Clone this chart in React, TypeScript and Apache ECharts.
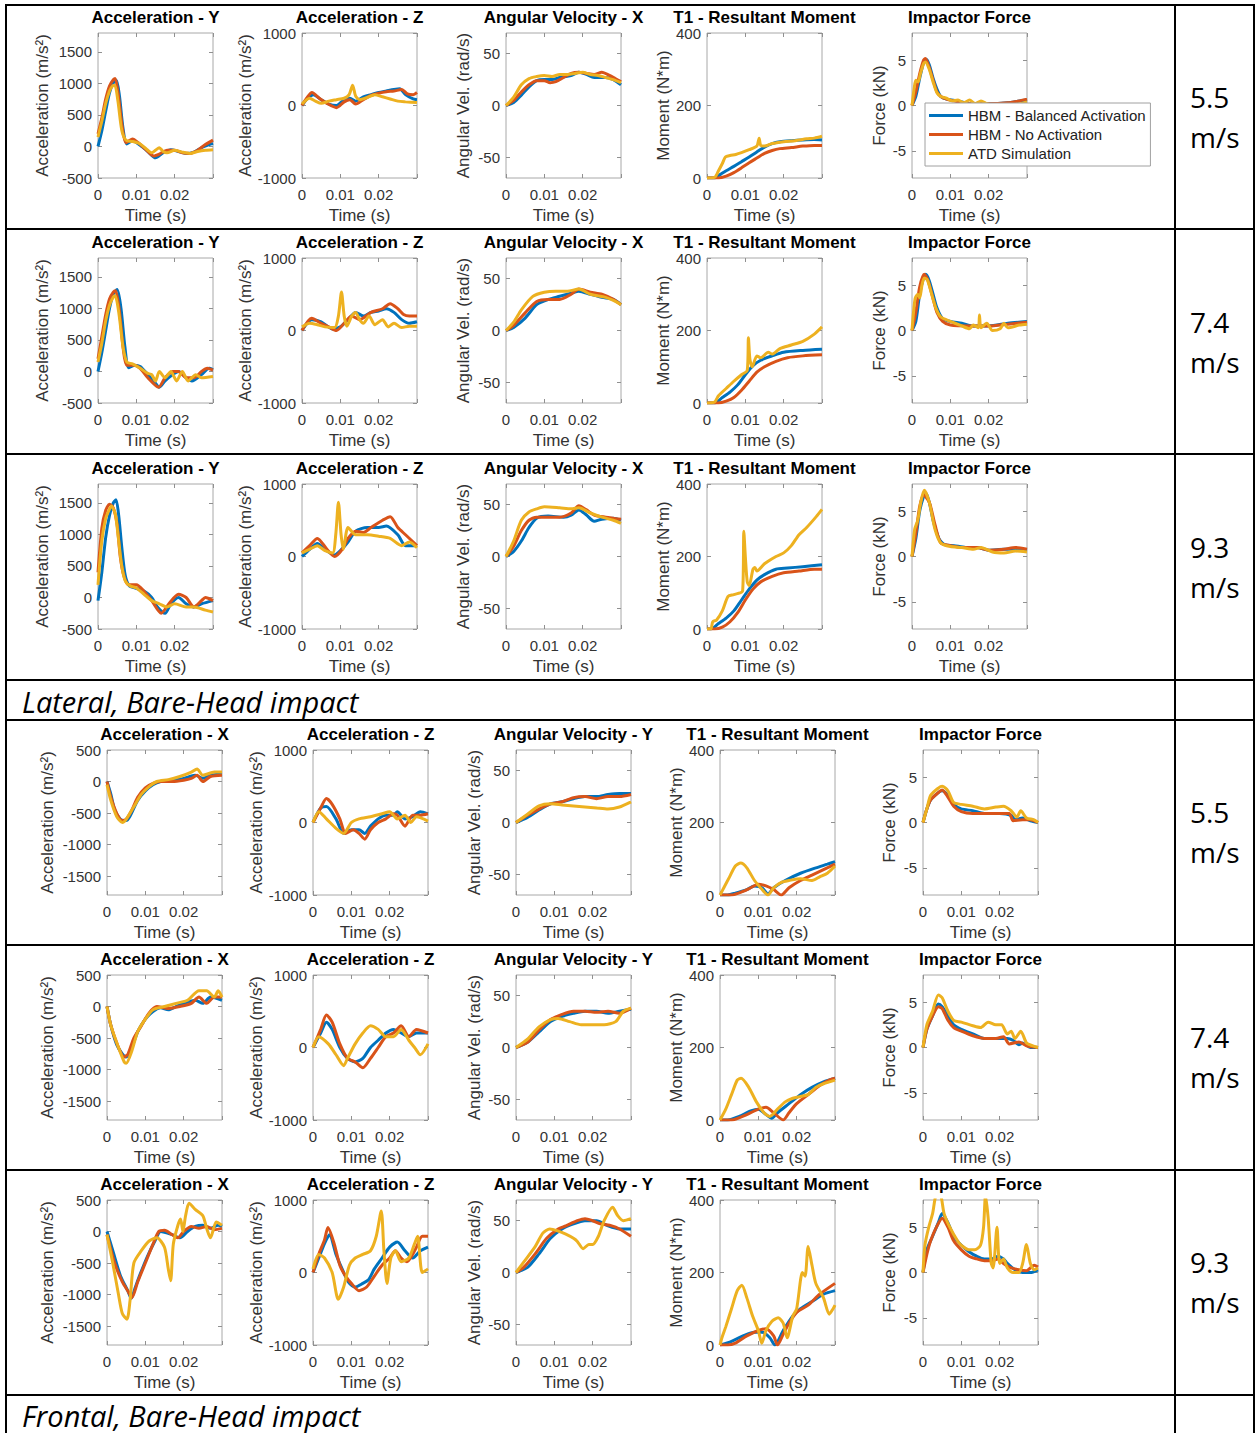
import React, { useEffect, useRef } from 'react';
import * as echarts from 'echarts';

type Pt = [number, number];

const BLUE = '#0072BD';
const RED = '#D95319';
const YEL = '#EDB120';
const SERIES_NAMES = ['HBM - Balanced Activation', 'HBM - No Activation', 'ATD Simulation'];

// ---- data: [time (ms), value] ----
// Lateral 5.5 m/s
const L55_AY_B: Pt[] = [[0,0],[1,250],[2,560],[3,850],[4,1010],[4.8,1050],[5.6,800],[6.5,300],[7.5,40],[9,90],[11,20],[13,-80],[15,-180],[17,-100],[19,-50],[21,-80],[23,-110],[25,-90],[27,-20],[29,30],[30,50]];
const L55_AY_R: Pt[] = [[0,200],[1,450],[2,750],[3,960],[4,1060],[4.5,1080],[5.3,820],[6.3,320],[7.3,60],[9,120],[10.5,60],[12.5,-50],[14.5,-150],[16,-120],[18,-60],[20,-60],[22,-100],[24,-110],[26,-60],[28,30],[30,100]];
const L55_AY_Y: Pt[] = [[0,150],[1,400],[2,680],[3,880],[3.8,960],[4.4,970],[5.2,720],[6.2,260],[7.3,100],[9,80],[11,40],[13,-60],[14,-100],[15,-60],[16,-20],[17,-80],[18,-100],[20,-60],[22,-90],[24,-110],[26,-80],[28,-60],[30,-50]];
const L55_AZ_B: Pt[] = [[0,0],[1.5,100],[3,150],[5,80],[7,20],[9,0],[11,80],[12.5,100],[14,60],[16,120],[18,150],[20,180],[22,200],[24,220],[25.5,230],[27,150],[29,90],[30,80]];
const L55_AZ_R: Pt[] = [[0,0],[1.2,100],[2.6,180],[4.5,100],[6.5,30],[9,-30],[11,50],[12.5,80],[14,20],[16,80],[18,140],[20,170],[22,190],[24,200],[26,220],[27.5,160],[29,150],[30,180]];
const L55_AZ_Y: Pt[] = [[0,20],[2,100],[3.5,60],[5,30],[7,60],[9,80],[11,100],[12.3,150],[13.2,280],[14,130],[15,80],[17,110],[19,150],[21,120],[23,90],[25,60],[27,50],[30,40]];
const L55_AV_B: Pt[] = [[0,0],[2,3],[4,10],[6,18],[8,24],[10,25],[12,25],[14,27],[17,29],[19,32],[21,30],[23,27],[26,27],[28,25],[30,20]];
const L55_AV_R: Pt[] = [[0,0],[2,5],[4,13],[6,20],[8,24],[10,24],[11.5,22],[13,23],[15,27],[17,31],[19,32],[21,31],[23,30],[25,32],[27,29],[28.5,26],[30,23]];
const L55_AV_Y: Pt[] = [[0,0],[2,8],[4,20],[6,26],[8,28],[10,29],[12,28],[14,30],[16,30],[18,31],[20,32],[22,30],[24,29],[26,27],[28,25],[30,22]];
const L55_MO_B: Pt[] = [[0,0],[2,0],[3.5,10],[5,20],[7,32],[9,45],[11,58],[13,72],[15,85],[17,95],[19,100],[22,103],[25,105],[28,106],[30,105]];
const L55_MO_R: Pt[] = [[0,0],[3,0],[5,5],[7,15],[9,28],[11,42],[13,55],[15,68],[17,76],[19,81],[22,84],[25,88],[28,90],[30,90]];
const L55_MO_Y: Pt[] = [[0,0],[2,2],[3,20],[4,40],[4.8,58],[6,62],[7.5,65],[9,70],[11,78],[13,88],[13.6,110],[14,90],[15,88],[17,95],[20,100],[23,103],[26,108],[28,110],[30,115]];
const L55_FO_B: Pt[] = [[0,0],[1,1],[2,3],[3,4.7],[3.7,5.1],[4.5,4.5],[5.5,3],[6.5,1.8],[7.5,1],[9,0.7],[12,0.5],[15,0.2],[20,0.2],[25,0.3],[28,0.5],[30,0.6]];
const L55_FO_R: Pt[] = [[0,0],[1,1.5],[2,3.5],[3,5],[3.5,5.2],[4.5,4.2],[5.5,2.8],[6.5,1.5],[7.5,1],[9,0.7],[12,0.4],[15,0.2],[20,0.2],[25,0.3],[28,0.5],[30,0.7]];
const L55_FO_Y: Pt[] = [[0,0],[0.6,2],[1,2.8],[1.6,2.6],[2.2,3.5],[3,4.6],[3.5,4.8],[4.5,4],[5.5,2.6],[6.5,1.4],[7.5,1],[9,0.8],[10.5,0.5],[12,0.6],[13.5,0.3],[15,0.6],[16.5,0.2],[18,0.5],[19.5,0.2],[21,0],[24,0],[27,0.1],[30,0.4]];

// Lateral 7.4 m/s
const L74_AY_B: Pt[] = [[0,0],[1,300],[2,650],[3,1000],[4,1230],[5,1300],[6,1000],[7,400],[8,60],[9.5,100],[11,80],[13,-50],[14.5,-150],[16,-250],[17.5,-150],[19.5,-50],[21,0],[23,-100],[24.5,-150],[27,-50],[29,50],[30,30]];
const L74_AY_R: Pt[] = [[0,200],[1,550],[2,900],[3,1150],[4,1260],[4.6,1280],[5.6,950],[6.6,350],[7.5,100],[9.5,100],[11,50],[13,-100],[15.8,-250],[17.5,-100],[19.5,0],[21,0],[23,-100],[25,-100],[27,0],[28.5,50],[30,20]];
const L74_AY_Y: Pt[] = [[0,150],[1,450],[2,800],[3,1050],[4,1180],[4.5,1200],[5.5,900],[6.5,400],[7.5,150],[9,120],[11,50],[13,-30],[14,-50],[15,-150],[16,0],[17.5,-100],[19,0],[20.5,-150],[22,0],[23.5,-150],[25.5,-50],[27,-100],[30,-80]];
const L74_AZ_B: Pt[] = [[0,0],[2.5,150],[5,120],[8,20],[10,50],[12,150],[14,250],[16,200],[18,250],[20,270],[22,300],[24,250],[26,150],[28,100],[30,120]];
const L74_AZ_R: Pt[] = [[0,0],[2.5,170],[5,100],[7,50],[9,0],[11,100],[13,200],[15,150],[18,250],[21,300],[23,370],[25,300],[26.5,220],[28,200],[30,200]];
const L74_AZ_Y: Pt[] = [[0,50],[2,100],[4,80],[6,50],[8.5,40],[9.5,200],[10.3,530],[11,200],[11.7,60],[13,200],[14,250],[15,150],[16,100],[17.5,200],[19,80],[21,150],[22.5,50],[24,100],[26,40],[28,60],[30,60]];
const L74_AV_B: Pt[] = [[0,0],[2,3],[5,12],[8,25],[11,30],[14,33],[17,36],[19,38],[22,35],[25,32],[28,30],[30,25]];
const L74_AV_R: Pt[] = [[0,0],[2,5],[5,17],[8,28],[11,30],[14,30],[17,35],[19,40],[22,37],[25,35],[28,30],[30,25]];
const L74_AV_Y: Pt[] = [[0,0],[2,8],[4,20],[7,33],[10,37],[13,38],[16,38],[19,40],[22,35],[26,32],[28,29],[30,25]];
const L74_MO_B: Pt[] = [[0,0],[2,0],[4,15],[6,30],[8,50],[10,78],[12,103],[14,118],[17,130],[20,140],[25,145],[30,148]];
const L74_MO_R: Pt[] = [[0,0],[3,0],[5,5],[7,15],[9,35],[11,60],[13,85],[15,100],[18,115],[21,125],[25,130],[30,133]];
const L74_MO_Y: Pt[] = [[0,0],[2,3],[3,20],[5,40],[7,60],[9,78],[10.5,90],[10.8,180],[11.2,120],[11.8,100],[13,130],[14,125],[16,140],[17,135],[19,150],[22,160],[25,170],[28,190],[30,210]];
const L74_FO_B: Pt[] = [[0,0],[1,1],[2,4],[3,5.8],[3.6,6.2],[4.5,5.5],[5.5,4],[6.5,2.5],[8,1.3],[10,1],[13,0.8],[16,0.5],[20,0.5],[25,0.8],[30,1]];
const L74_FO_R: Pt[] = [[0,0],[1,2],[2,4.8],[3.2,6.2],[4.2,5.5],[5.5,3.5],[6.5,2],[8,1],[10,0.6],[15,0.5],[20,0.5],[25,0.7],[30,0.9]];
const L74_FO_Y: Pt[] = [[0,0],[0.8,3.5],[1.5,4],[2,3.6],[2.6,5],[3.2,5.8],[4,5.6],[5,4.2],[6.2,2.5],[7.5,1.5],[10,1],[13,0.5],[15,0.2],[16,0.6],[17.3,0.3],[17.6,1.7],[18,0.3],[19.5,0.8],[21,0],[23,0.2],[24,0.8],[25,0.3],[28,0.6],[30,0.7]];

// Lateral 9.3 m/s
const L93_AY_B: Pt[] = [[0,-50],[1,400],[2,950],[3,1300],[4,1500],[4.7,1550],[5.4,1300],[6.2,800],[7.1,350],[8.2,180],[9.7,150],[12,100],[14,0],[15.5,-150],[17.5,-250],[19,-100],[21,0],[23,-100],[25,-150],[27,-100],[30,-50]];
const L93_AY_R: Pt[] = [[0,400],[1,1100],[2,1380],[3,1480],[4,1420],[5,1150],[5.8,650],[6.8,330],[8,200],[10,200],[12,100],[14,-50],[16.5,-250],[18.5,-100],[21,50],[23,0],[25,-150],[27,-50],[28,0],[30,-50]];
const L93_AY_Y: Pt[] = [[0,200],[1,900],[2,1250],[3,1400],[3.5,1450],[4.5,1330],[5.3,950],[6.2,500],[7.2,250],[8.5,180],[10,150],[12,50],[14,-50],[16,-100],[18,-150],[20,-100],[23,-150],[25,-150],[28,-200],[30,-230]];
const L93_AZ_B: Pt[] = [[0,0],[2,100],[4,180],[6,100],[8.5,20],[10,80],[12,200],[14,350],[17,400],[20,400],[22,420],[25,300],[27,150],[30,150]];
const L93_AZ_R: Pt[] = [[0,50],[2,150],[4,250],[6.5,100],[8.5,0],[10.5,100],[12,250],[14,350],[16,330],[18,400],[21,500],[23,550],[25,400],[27,300],[30,150]];
const L93_AZ_Y: Pt[] = [[0,50],[2,100],[4,150],[6,80],[8,50],[8.8,300],[9.5,750],[10.2,300],[10.8,100],[12,400],[14,300],[17,300],[20,280],[23,250],[26,150],[28,200],[30,120]];
const L93_AV_B: Pt[] = [[0,0],[2,5],[4,15],[6,28],[8,37],[11,39],[15,38],[17,40],[19,45],[21,40],[23,34],[25,36],[28,37],[30,35]];
const L93_AV_R: Pt[] = [[0,0],[2,10],[4,25],[6,35],[8,38],[11,38],[14,38],[17,42],[19,49],[21,45],[23,40],[26,38],[30,36]];
const L93_AV_Y: Pt[] = [[0,0],[2,15],[4,35],[6,43],[8,46],[10,48],[14,47],[17,46],[19,47],[22,42],[25,38],[28,35],[30,32]];
const L93_MO_B: Pt[] = [[0,0],[1,0],[3,15],[5,30],[7,50],[9,80],[11,110],[13,135],[15,150],[18,165],[21,168],[25,172],[30,177]];
const L93_MO_R: Pt[] = [[0,0],[2,0],[4,5],[6,20],[8,45],[10,80],[12,110],[14,130],[17,145],[20,155],[24,160],[28,165],[30,165]];
const L93_MO_Y: Pt[] = [[0,0],[1,0],[1.5,20],[2.5,25],[4,50],[5.5,90],[7,95],[9.3,105],[9.6,270],[10,200],[10.5,130],[11,120],[12,165],[12.5,170],[13,160],[15,180],[18,200],[20,210],[22,230],[24,260],[26,280],[28.5,310],[30,330]];
const L93_FO_B: Pt[] = [[0,0],[1,2],[2,5],[3,6.6],[3.6,7],[4.5,6],[5.5,4],[7,2],[8.5,1.3],[11,1.2],[14,1],[17,1],[20,0.7],[24,0.8],[27,0.8],[30,0.7]];
const L93_FO_R: Pt[] = [[0,0],[1,2.5],[2,5.5],[3,6.8],[4.5,6],[6,3.5],[7.5,1.5],[10,1.2],[13,1],[17,1],[20,0.7],[24,0.8],[27,1],[30,0.8]];
const L93_FO_Y: Pt[] = [[0,0],[0.7,3],[1.5,4],[2.3,6],[3.2,7.3],[4.5,6],[6,3],[7.5,1.5],[10,1.1],[13,1],[16,0.8],[18,1],[21,0.5],[24,0.4],[27,0.6],[30,0.5]];

// Frontal 5.5 m/s
const F55_AX_B: Pt[] = [[0,0],[1,-200],[2,-450],[3.5,-600],[5,-620],[6,-550],[8,-300],[10,-150],[12,-50],[14,0],[17,20],[20,50],[23,100],[25,50],[27,100],[30,120]];
const F55_AX_R: Pt[] = [[0,0],[1,-250],[2.5,-500],[4,-620],[5,-600],[6.5,-450],[8,-250],[10,-100],[12,-30],[14,0],[17,0],[20,20],[22,50],[23.5,100],[25,0],[27,80],[30,100]];
const F55_AX_Y: Pt[] = [[0,-50],[1,-300],[2.5,-550],[4,-650],[5,-600],[7,-400],[9,-200],[11,-80],[13,0],[16,30],[19,80],[22,150],[23.5,200],[25,100],[28,150],[30,150]];
const F55_AZ_B: Pt[] = [[0,0],[2,200],[3.5,220],[6,50],[8,-150],[10,-100],[12,-100],[13.5,-150],[15,-50],[17,50],[19,100],[21,100],[22,150],[24,50],[26,80],[28,150],[30,120]];
const F55_AZ_R: Pt[] = [[0,0],[2,200],[3.5,330],[5,250],[7,50],[8.5,-150],[10.5,-100],[12,-150],[13.5,-230],[15,-100],[17,0],[19,50],[21,120],[22,100],[24,-50],[26,100],[28,100],[30,120]];
const F55_AZ_Y: Pt[] = [[0,0],[1.5,150],[3.5,50],[6,-80],[8,-150],[10,0],[12,50],[15,80],[18,120],[20,150],[22,50],[24,100],[25.5,0],[27,80],[30,20]];
const F55_AV_B: Pt[] = [[0,0],[3,5],[6,12],[9,18],[12,20],[15,23],[18,25],[21,25],[24,27],[27,28],[30,28]];
const F55_AV_R: Pt[] = [[0,0],[3,7],[6,13],[9,18],[12,20],[15,24],[18,25],[21,23],[24,25],[27,25],[30,27]];
const F55_AV_Y: Pt[] = [[0,0],[3,8],[6,16],[9,18],[12,17],[15,16],[18,15],[21,14],[24,13],[27,15],[30,20]];
const F55_MO_B: Pt[] = [[0,0],[2,0],[4,5],[7,15],[9,25],[11,20],[12.5,3],[14,20],[17,40],[21,60],[25,75],[28,85],[30,92]];
const F55_MO_R: Pt[] = [[0,0],[3,0],[6,10],[8,20],[10,30],[12,25],[14,15],[16,0],[18,20],[21,40],[24,55],[27,70],[30,85]];
const F55_MO_Y: Pt[] = [[0,0],[1,20],[2.5,50],[4,80],[5.4,88],[7,75],[9,40],[11,15],[12.5,0],[14,20],[16,35],[18,40],[21,45],[24,40],[26,50],[28,60],[30,80]];
const F55_FO_B: Pt[] = [[0,0],[1,1.5],[2,2.5],[4,3.3],[5,3.5],[6.5,3],[8,2],[10,1.5],[13,1.3],[16,1],[20,1],[23,0.8],[24,0.3],[26,0.5],[28,0.2],[30,0]];
const F55_FO_R: Pt[] = [[0,0],[1,1.5],[2,2.5],[4,3.3],[5,3.6],[6.5,2.8],[8,1.8],[10,1.2],[13,1],[17,1],[20,1],[22.5,1],[23.5,0.2],[26,0.3],[28,0.3],[30,0]];
const F55_FO_Y: Pt[] = [[0,0],[1,1.5],[2,3],[4,3.8],[5,4],[6.5,3.5],[8,2.2],[10,2],[13,1.8],[16,1.5],[19,1.7],[21,1.8],[23,1.3],[24.5,0.6],[25.5,1.3],[27,0.5],[29,0.3],[30,0]];

// Frontal 7.4 m/s
const F74_AX_B: Pt[] = [[0,0],[1,-300],[2.5,-600],[4,-750],[5,-800],[6.5,-650],[8,-400],[10,-200],[12,-80],[14,-20],[16,-50],[18,0],[20,50],[23,100],[25,50],[27,150],[30,100]];
const F74_AX_R: Pt[] = [[0,0],[1,-300],[3,-650],[4.5,-800],[5.5,-750],[7,-500],[9,-300],[11,-100],[13,0],[16,-30],[19,0],[22,50],[24,150],[26,50],[28,150],[30,150]];
const F74_AX_Y: Pt[] = [[0,0],[1,-300],[3,-650],[4.5,-880],[5,-900],[6.5,-700],[8,-400],[10,-200],[12,-50],[15,0],[18,50],[21,100],[24,250],[26,250],[28,150],[29,250],[30,150]];
const F74_AZ_B: Pt[] = [[0,0],[2,200],[3.5,350],[5,250],[7,0],[9,-150],[11,-200],[13,-150],[15,0],[17,100],[19,200],[21,250],[23,200],[25,150],[27,200],[30,200]];
const F74_AZ_R: Pt[] = [[0,0],[2,250],[3.5,450],[5,350],[7,50],[9,-150],[11,-200],[13,-280],[15,-150],[17,0],[19,150],[21,200],[23,300],[25,150],[27,250],[30,200]];
const F74_AZ_Y: Pt[] = [[0,0],[1.5,150],[4,50],[6,-100],[8,-250],[9,-150],[11,50],[13,200],[15,300],[17,250],[19,150],[21,150],[23,250],[25,100],[26.5,0],[28,-100],[30,50]];
const F74_AV_B: Pt[] = [[0,0],[3,5],[6,15],[9,25],[12,30],[15,33],[18,35],[21,35],[24,33],[27,35],[30,37]];
const F74_AV_R: Pt[] = [[0,0],[3,5],[6,17],[9,27],[12,32],[15,35],[18,35],[21,34],[24,35],[27,33],[30,38]];
const F74_AV_Y: Pt[] = [[0,0],[3,8],[6,20],[9,27],[11,28],[14,25],[17,22],[20,22],[23,22],[26,25],[28,35],[30,38]];
const F74_MO_B: Pt[] = [[0,0],[2,0],[5,10],[8,25],[10,30],[12,15],[13.5,5],[15,20],[18,45],[21,70],[24,90],[27,105],[30,115]];
const F74_MO_R: Pt[] = [[0,0],[3,0],[7,15],[10,30],[12,35],[14,20],[16.5,0],[18,20],[20,45],[23,70],[26,95],[28.5,110],[30,115]];
const F74_MO_Y: Pt[] = [[0,0],[1.5,30],[3,70],[4.5,110],[5.5,115],[7.5,90],[9.5,50],[11.5,20],[13,10],[15,30],[17,50],[19,60],[21,65],[23,70],[25,90],[27,100],[30,110]];
const F74_FO_B: Pt[] = [[0,0],[1,2],[2.5,3.5],[4,4.8],[5,4.5],[6.5,3.5],[8,2.5],[10,2],[13,1.5],[16,1],[19,1],[22,1],[23.5,0.8],[25,0.3],[26,0.5],[28,0],[30,0]];
const F74_FO_R: Pt[] = [[0,0],[1,2],[2.5,3.5],[4,4.5],[5,4.3],[6.5,3],[8,2.2],[10,1.8],[13,1.3],[16,1],[19,1],[21,1.2],[22.5,0.4],[25,0.6],[27,0.2],[30,0]];
const F74_FO_Y: Pt[] = [[0,0],[1,2.5],[2.5,4],[4,5.8],[5,5.5],[6.5,4],[8,3],[10,2.8],[13,2.4],[15,2.2],[17,2.8],[19,2.5],[20.5,2.5],[22,1.5],[23,1.8],[24,1],[25.5,1.8],[27,0.5],[28.5,0.2],[30,0]];

// Frontal 9.3 m/s
const F93_AX_B: Pt[] = [[0,0],[1.5,-300],[3.5,-700],[5.5,-950],[6.3,-1060],[7.3,-900],[8.5,-700],[10.5,-400],[12.5,-150],[14,0],[17,-50],[19,-100],[21,0],[23,80],[25,100],[27,50],[29,100],[30,80]];
const F93_AX_R: Pt[] = [[0,-50],[2,-500],[4,-800],[5.5,-950],[6.5,-1050],[8,-800],[10,-500],[12,-200],[13.5,0],[15,20],[17,-50],[18.5,-100],[20,0],[22,80],[24,50],[26,80],[28,30],[30,50]];
const F93_AX_Y: Pt[] = [[0,-50],[1.5,-500],[3,-1000],[4,-1300],[5.2,-1390],[6,-1100],[7,-500],[9,-300],[11,-150],[13,-100],[15,-250],[16,-600],[16.6,-780],[17.3,-200],[18.5,100],[19.2,200],[19.8,0],[20.5,250],[21.4,450],[23,350],[25,250],[26,50],[27,-100],[28.5,150],[30,100]];
const F93_AZ_B: Pt[] = [[0,0],[1.5,200],[3,400],[4.3,520],[6,250],[8,0],[9.5,-150],[11,-200],[13,-150],[14.5,-100],[16,50],[18,200],[20,350],[22,420],[24,300],[26,200],[28,300],[30,350]];
const F93_AZ_R: Pt[] = [[0,0],[1.5,250],[3,450],[3.9,620],[5.5,400],[7,100],[8.5,-50],[10,-150],[12,-250],[14,-200],[16,-50],[18,100],[20,200],[21.5,300],[23,200],[24.5,150],[26,250],[27,350],[28.5,500],[30,500]];
const F93_AZ_Y: Pt[] = [[0,50],[1.5,250],[3,200],[5,0],[6.6,-370],[8,-200],[9.5,100],[11,200],[13,250],[15,300],[16.5,500],[17.8,850],[18.5,300],[19.3,-150],[20.3,200],[21.5,300],[23,150],[25,200],[26.5,400],[27.3,500],[28.5,0],[30,50]];
const F93_AV_B: Pt[] = [[0,0],[3,5],[6,18],[9,33],[12,42],[15,47],[18,50],[21,50],[24,45],[27,42],[30,42]];
const F93_AV_R: Pt[] = [[0,0],[2,5],[5,18],[8,33],[11,42],[13,45],[16,50],[18,52],[20,50],[22,47],[25,45],[27,42],[30,35]];
const F93_AV_Y: Pt[] = [[0,0],[2,10],[5,25],[7,38],[8.8,42],[11,40],[13,37],[15,33],[16,30],[17.5,23],[19,27],[20,27],[21.5,35],[23,50],[25.2,63],[26.5,55],[28,50],[30,52]];
const F93_MO_B: Pt[] = [[0,0],[3,10],[6,25],[9,35],[11,35],[13,20],[14.3,0],[16.5,40],[19,80],[21,100],[24,120],[27,140],[30,150]];
const F93_MO_R: Pt[] = [[0,0],[2,0],[4,5],[7,25],[10,40],[12,45],[14,25],[15,0],[16.5,30],[18,60],[20,90],[23,110],[26,140],[30,170]];
const F93_MO_Y: Pt[] = [[0,0],[0.5,20],[1.5,50],[3,100],[4.5,150],[5.7,165],[7,130],[8.5,80],[10,40],[10.9,5],[12,40],[13.5,65],[15.2,75],[16.5,60],[17.5,20],[19,80],[20,100],[21.5,200],[22.2,190],[23,272],[24,220],[25,170],[27,130],[28.5,85],[29.5,100],[30,110]];
const F93_FO_B: Pt[] = [[0,0],[1,2.5],[2.5,4],[4,5.5],[5,6.5],[6.5,5.5],[8,4],[10,3],[12,2.3],[14,1.8],[16,1.5],[18,1.5],[19.5,1.8],[21,1.5],[22,1],[24,0.3],[26,0],[28,0],[30,0.3]];
const F93_FO_R: Pt[] = [[0,0],[1,2],[2,3.5],[3.5,5],[5,6],[6.5,5],[8,3.5],[10,2.5],[12,1.8],[14,1.5],[16,1.3],[18,1.3],[19.5,1.5],[21,1],[23,0.5],[25,0.3],[27,0.2],[29,0.8],[30,0.6]];
const F93_FO_Y: Pt[] = [[0,0],[0.5,3],[1.5,5],[2.5,6.5],[3.5,8.5],[4.5,8.5],[5.5,6.5],[7,5],[9,3.5],[10,3],[12,2.5],[13.5,2.5],[15,3],[15.8,5],[16.3,8.5],[17,6],[17.8,1],[18.3,0.5],[19.3,5],[20,1],[21,1.5],[22,0.5],[23.5,0],[25,0],[26,1],[27,3.1],[28,1],[29,0.3],[30,0.5]];

// ---- ticks ----
const X_TICK_LABELS = [0, 0.01, 0.02];
const X_TICK_MARKS = [0, 0.01, 0.02, 0.03];
const ACC_Y_TICKS = [-500, 0, 500, 1000, 1500];
const ACC_X_TICKS = [-1500, -1000, -500, 0, 500];
const ACC_Z_TICKS = [-1000, 0, 1000];
const ANG_TICKS = [-50, 0, 50];
const MOM_TICKS = [0, 200, 400];
const FORCE_TICKS = [-5, 0, 5];

const LAT_PANELS = [
  { title: 'Acceleration - Y', name: 'Acceleration (m/s²)', min: -500, max: 1800, ticks: ACC_Y_TICKS },
  { title: 'Acceleration - Z', name: 'Acceleration (m/s²)', min: -1000, max: 1000, ticks: ACC_Z_TICKS },
  { title: 'Angular Velocity - X', name: 'Angular Vel. (rad/s)', min: -70, max: 70, ticks: ANG_TICKS },
  { title: 'T1 - Resultant Moment', name: 'Moment (N*m)', min: 0, max: 400, ticks: MOM_TICKS },
  { title: 'Impactor Force', name: 'Force (kN)', min: -8, max: 8, ticks: FORCE_TICKS },
];
const FRO_PANELS = [
  { title: 'Acceleration - X', name: 'Acceleration (m/s²)', min: -1800, max: 500, ticks: ACC_X_TICKS },
  { title: 'Acceleration - Z', name: 'Acceleration (m/s²)', min: -1000, max: 1000, ticks: ACC_Z_TICKS },
  { title: 'Angular Velocity - Y', name: 'Angular Vel. (rad/s)', min: -70, max: 70, ticks: ANG_TICKS },
  { title: 'T1 - Resultant Moment', name: 'Moment (N*m)', min: 0, max: 400, ticks: MOM_TICKS },
  { title: 'Impactor Force', name: 'Force (kN)', min: -8, max: 8, ticks: FORCE_TICKS },
];

const ROWS = [
  { frontal: false, speed: '5.5', curves: [[L55_AY_B, L55_AY_R, L55_AY_Y], [L55_AZ_B, L55_AZ_R, L55_AZ_Y], [L55_AV_B, L55_AV_R, L55_AV_Y], [L55_MO_B, L55_MO_R, L55_MO_Y], [L55_FO_B, L55_FO_R, L55_FO_Y]] },
  { frontal: false, speed: '7.4', curves: [[L74_AY_B, L74_AY_R, L74_AY_Y], [L74_AZ_B, L74_AZ_R, L74_AZ_Y], [L74_AV_B, L74_AV_R, L74_AV_Y], [L74_MO_B, L74_MO_R, L74_MO_Y], [L74_FO_B, L74_FO_R, L74_FO_Y]] },
  { frontal: false, speed: '9.3', curves: [[L93_AY_B, L93_AY_R, L93_AY_Y], [L93_AZ_B, L93_AZ_R, L93_AZ_Y], [L93_AV_B, L93_AV_R, L93_AV_Y], [L93_MO_B, L93_MO_R, L93_MO_Y], [L93_FO_B, L93_FO_R, L93_FO_Y]] },
  { frontal: true, speed: '5.5', curves: [[F55_AX_B, F55_AX_R, F55_AX_Y], [F55_AZ_B, F55_AZ_R, F55_AZ_Y], [F55_AV_B, F55_AV_R, F55_AV_Y], [F55_MO_B, F55_MO_R, F55_MO_Y], [F55_FO_B, F55_FO_R, F55_FO_Y]] },
  { frontal: true, speed: '7.4', curves: [[F74_AX_B, F74_AX_R, F74_AX_Y], [F74_AZ_B, F74_AZ_R, F74_AZ_Y], [F74_AV_B, F74_AV_R, F74_AV_Y], [F74_MO_B, F74_MO_R, F74_MO_Y], [F74_FO_B, F74_FO_R, F74_FO_Y]] },
  { frontal: true, speed: '9.3', curves: [[F93_AX_B, F93_AX_R, F93_AX_Y], [F93_AZ_B, F93_AZ_R, F93_AZ_Y], [F93_AV_B, F93_AV_R, F93_AV_Y], [F93_MO_B, F93_MO_R, F93_MO_Y], [F93_FO_B, F93_FO_R, F93_FO_Y]] },
];

const SECTION_LABELS = ['Lateral, Bare-Head impact', 'Frontal, Bare-Head impact'];

// ---- layout ----
const W = 1256;
const H = 1433;
const LAT_LEFTS = [98, 302, 506, 707, 912];
const FRO_LEFTS = [107, 313, 516, 720, 923];
const ROW_TOPS = [33, 258, 484, 750, 975, 1200];
const ROW_CENTERS = [117, 342, 567, 832, 1057, 1282];
const BOX_W = 115;
const BOX_H = 145;
const LAT_NAME_GAPS = [47, 46, 34, 33, 24];
const FRO_NAME_GAPS = [51, 46, 33, 35, 25];
const H_LINES = [5, 229, 454, 680, 720, 945, 1170, 1395];
const V_LINES = [6, 1175, 1254];
const SECTION_Y = [701, 1415];

const FONT = '"Liberation Sans", Arial, Helvetica, sans-serif';
const DOC_FONT = '"Open Sans", "Noto Sans", sans-serif';
const COLORS = [BLUE, RED, YEL];
const TICK_STYLE = { color: '#909090' };

function buildOption() {
  const grid: any[] = [];
  const xAxis: any[] = [];
  const yAxis: any[] = [];
  const xTop: any[] = [];
  const yRight: any[] = [];
  const series: any[] = [];
  const graphic: any[] = [];

  ROWS.forEach((row, ri) => {
    const specs = row.frontal ? FRO_PANELS : LAT_PANELS;
    const lefts = row.frontal ? FRO_LEFTS : LAT_LEFTS;
    const gaps = row.frontal ? FRO_NAME_GAPS : LAT_NAME_GAPS;
    const top = ROW_TOPS[ri];
    specs.forEach((sp, pi) => {
      const gi = grid.length;
      const left = lefts[pi];
      const isMoment = pi === 3;
      grid.push({
        left, top, width: BOX_W, height: BOX_H,
        show: true, borderColor: '#a8a8a8', borderWidth: 1, backgroundColor: '#ffffff',
      });
      xAxis.push({
        gridIndex: gi, type: 'value', min: 0, max: 0.03, position: 'bottom',
        name: 'Time (s)', nameLocation: 'middle', nameGap: 29,
        nameTextStyle: { fontSize: 17, color: '#333', fontFamily: FONT },
        axisLine: { show: false, onZero: false },
        axisTick: { show: true, inside: true, length: 4, lineStyle: TICK_STYLE, customValues: X_TICK_MARKS },
        axisLabel: { show: true, customValues: X_TICK_LABELS, formatter: (v: number) => String(v), fontSize: 15, color: '#333', fontFamily: FONT, margin: 9 },
        splitLine: { show: false },
      });
      xTop.push({
        gridIndex: gi, type: 'value', min: 0, max: 0.03, position: 'top',
        axisLine: { show: false, onZero: false },
        axisTick: { show: true, inside: true, length: 4, lineStyle: TICK_STYLE, customValues: X_TICK_MARKS },
        axisLabel: { show: false }, splitLine: { show: false },
      });
      yAxis.push({
        gridIndex: gi, type: 'value', min: sp.min, max: sp.max, position: 'left',
        name: sp.name, nameLocation: 'middle', nameGap: gaps[pi], nameRotate: 90,
        nameTextStyle: { fontSize: 17, color: '#333', fontFamily: FONT },
        axisLine: { show: false, onZero: false },
        axisTick: { show: true, inside: true, length: 4, lineStyle: TICK_STYLE, customValues: sp.ticks },
        axisLabel: {
          show: true, customValues: sp.ticks, formatter: (v: number) => String(v),
          fontSize: 15, color: '#333', fontFamily: FONT, margin: 6,
          padding: isMoment ? [5, 0, 0, 0] : 0,
        },
        splitLine: { show: false },
      });
      yRight.push({
        gridIndex: gi, type: 'value', min: sp.min, max: sp.max, position: 'right',
        axisLine: { show: false, onZero: false },
        axisTick: { show: true, inside: true, length: 4, lineStyle: TICK_STYLE, customValues: sp.ticks },
        axisLabel: { show: false }, splitLine: { show: false },
      });
      row.curves[pi].forEach((curve, ci) => {
        series.push({
          type: 'line', name: SERIES_NAMES[ci], xAxisIndex: gi, yAxisIndex: gi,
          data: curve.map(([t, v]) => [t / 1000, v]),
          showSymbol: false, symbol: 'none', smooth: 0.25, clip: true, silent: true,
          lineStyle: { width: 3, color: COLORS[ci] }, itemStyle: { color: COLORS[ci] },
          z: 2 + ci,
        });
      });
      graphic.push({
        type: 'text', x: left + BOX_W / 2, y: top - 16, silent: true,
        style: { text: sp.title, fontSize: 17, fontWeight: 'bold', fontFamily: FONT, fill: '#000', textAlign: 'center', textVerticalAlign: 'middle' },
      });
    });
    graphic.push({
      type: 'text', x: 1190, y: ROW_CENTERS[ri] - 20, silent: true,
      style: { text: row.speed, fontSize: 28, fontFamily: DOC_FONT, fill: '#000', textAlign: 'left', textVerticalAlign: 'middle' },
    });
    graphic.push({
      type: 'text', x: 1190, y: ROW_CENTERS[ri] + 20, silent: true,
      style: { text: 'm/s', fontSize: 28, fontFamily: DOC_FONT, fill: '#000', textAlign: 'left', textVerticalAlign: 'middle' },
    });
  });

  SECTION_LABELS.forEach((lab, i) => {
    graphic.push({
      type: 'text', x: 22, y: SECTION_Y[i], silent: true,
      style: { text: lab, fontSize: 29, lineHeight: 29, fontStyle: 'italic', fontFamily: DOC_FONT, fill: '#000', textAlign: 'left', textVerticalAlign: 'middle' },
    });
  });

  H_LINES.forEach((y) => {
    graphic.push({ type: 'line', silent: true, z: 50, shape: { x1: 5, y1: y, x2: 1255, y2: y }, style: { stroke: '#000', lineWidth: 2 } });
  });
  V_LINES.forEach((x) => {
    graphic.push({ type: 'line', silent: true, z: 50, shape: { x1: x, y1: 4, x2: x, y2: H }, style: { stroke: '#000', lineWidth: 2 } });
  });

  return {
    animation: false,
    backgroundColor: '#ffffff',
    grid,
    xAxis: [...xAxis, ...xTop],
    yAxis: [...yAxis, ...yRight],
    series, graphic,
    legend: {
      data: SERIES_NAMES, orient: 'vertical', left: 925, top: 103,
      icon: 'rect', itemWidth: 34, itemHeight: 3, itemGap: 4,
      backgroundColor: '#ffffff', borderColor: '#a0a0a0', borderWidth: 1, borderRadius: 0,
      padding: [5, 4, 5, 4], selectedMode: false,
      textStyle: { fontSize: 15, color: '#222', fontFamily: FONT },
      z: 20,
    },
  };
}

export default function App() {
  const ref = useRef<HTMLDivElement>(null);
  useEffect(() => {
    if (!ref.current) return;
    const chart = echarts.init(ref.current, undefined, { renderer: 'svg', width: W, height: H });
    chart.setOption(buildOption());
    return () => chart.dispose();
  }, []);
  return <div ref={ref} style={{ position: 'absolute', left: 0, top: 0, width: W, height: H, background: '#fff' }} />;
}
